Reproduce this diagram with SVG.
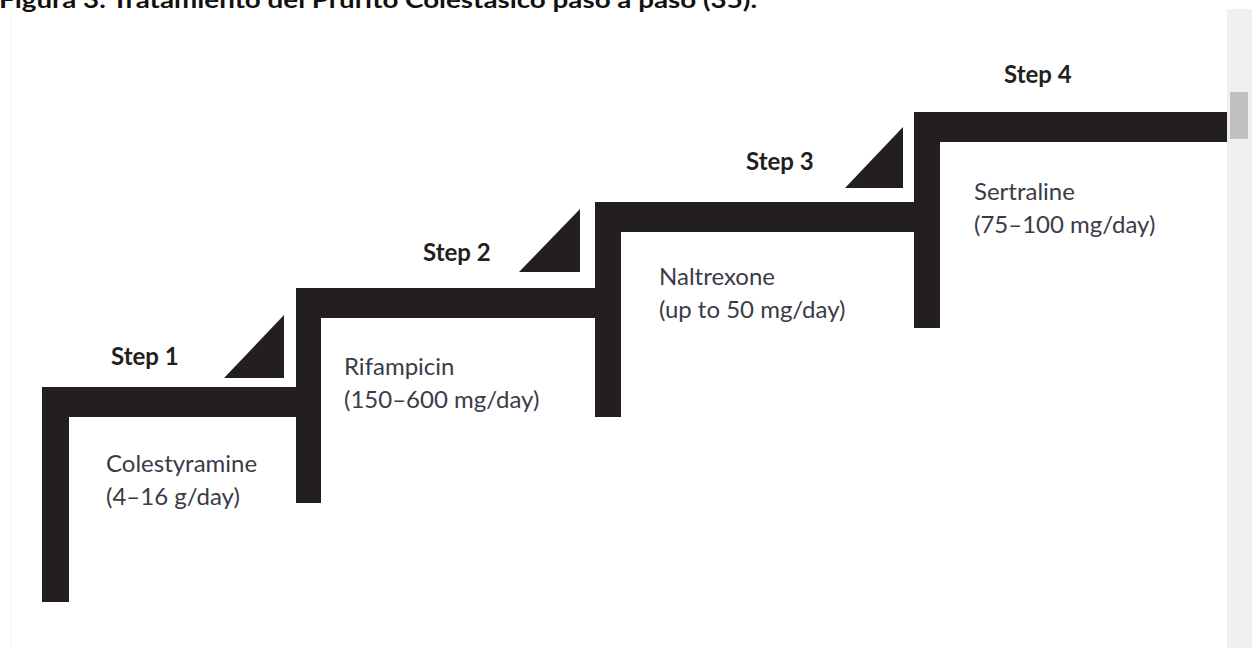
<svg xmlns="http://www.w3.org/2000/svg" width="1256" height="648" viewBox="0 0 1256 648">
<style>
.bar{fill:#231f20}
.tri{fill:#231f20}
.step{font-family:Lato,"Open Sans",sans-serif;font-weight:700;font-size:24px;fill:#231f20}
.drug{font-family:Lato,"Open Sans",sans-serif;font-size:24px;fill:#3b3b47}
.title{font-family:Lato,"Open Sans",sans-serif;font-weight:700;font-size:22px;fill:#111}
</style>
<rect width="1256" height="648" fill="#fff"/>
<rect x="1227" y="9" width="25" height="639" fill="#f0f0f0"/>
<rect x="1230" y="92" width="18" height="47" fill="#c1c1c1"/>
<line x1="11" y1="10" x2="11" y2="648" stroke="#f4f4f4" stroke-width="1"/>
<text class="title" x="-1" y="8" textLength="758" lengthAdjust="spacingAndGlyphs">Figura 3. Tratamiento del Prurito Colestásico paso a paso (35).</text>
<g id="connectors"></g>
<g id="step1">
<path class="bar" d="M42,387 H296 V417 H69 V602 H42 Z"/>
<polygon class="tri" points="224,378 284,378 284,315"/>
<text class="step" x="111" y="365">Step 1</text>
<text class="drug" x="106" y="472">Colestyramine</text>
<text class="drug" x="106" y="505">(4–16 g/day)</text>
</g>
<g id="step2">
<path class="bar" d="M296,288 H595 V318 H321 V503 H296 Z"/>
<polygon class="tri" points="519,272 580,272 580,209"/>
<text class="step" x="423" y="261">Step 2</text>
<text class="drug" x="344" y="375">Rifampicin</text>
<text class="drug" x="344" y="408">(150–600 mg/day)</text>
</g>
<g id="step3">
<path class="bar" d="M595,202 H914 V232 H621 V417 H595 Z"/>
<polygon class="tri" points="845,188 903,188 903,127"/>
<text class="step" x="746" y="170">Step 3</text>
<text class="drug" x="659" y="285">Naltrexone</text>
<text class="drug" x="659" y="318">(up to 50 mg/day)</text>
</g>
<g id="step4">
<path class="bar" d="M914,112 H1227 V142 H940 V328 H914 Z"/>
<text class="step" x="1004" y="83">Step 4</text>
<text class="drug" x="974" y="200">Sertraline</text>
<text class="drug" x="974" y="233">(75–100 mg/day)</text>
</g>
</svg>
